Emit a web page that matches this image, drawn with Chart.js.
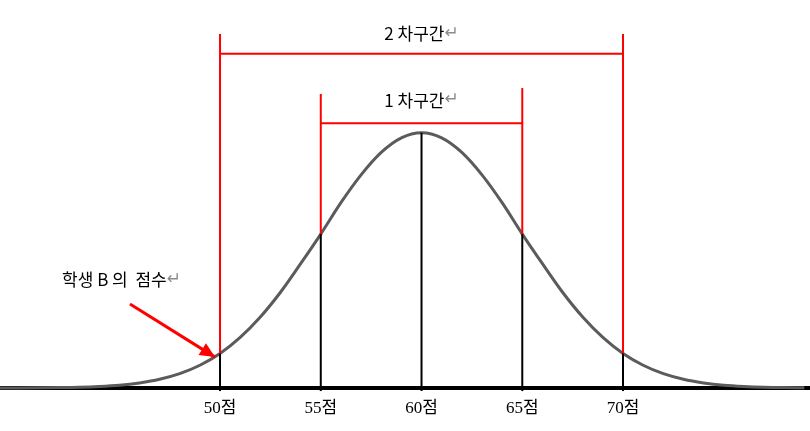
<!DOCTYPE html>
<html>
<head>
<meta charset="utf-8">
<script src="https://cdn.jsdelivr.net/npm/chart.js@4.4.1/dist/chart.umd.min.js"></script>
<style>
  html, body { margin: 0; padding: 0; background: #ffffff; }
  #wrap { width: 810px; height: 431px; position: relative; }
</style>
</head>
<body>
<div id="wrap"><canvas id="c" width="810" height="431"></canvas></div>
<script>
// ---- data ----
const scoreX   = [39,40,41,42,43,44,45,46,47,48,49,50,51,52,53,54,55,56,57,58,59,60,
                  61,62,63,64,65,66,67,68,69,70,71,72,73,74,75,76,77,78,79];
const curveY   = [0.01,0.03,0.07,0.15,0.3,0.6,1.1,2.0,3.4,5.6,8.9,13.5,19.8,27.8,37.5,48.7,60.3,72.6,83.5,92.3,98.0,100,
                  98.0,92.3,83.5,72.6,60.3,48.7,37.5,27.8,19.8,13.5,8.9,5.6,3.4,2.0,1.1,0.6,0.3,0.15,0.07];
const tickValues = [50, 55, 60, 65, 70];
const tickLabels = ['50점', '55점', '60점', '65점', '70점'];
const tickCurveHeights = [13.5, 60.3, 100, 60.3, 13.5];   // where the black drop lines meet the curve
const redTops = [138.7, 115.2, null, 117.5, 138.7];        // top of the red markers
const band2 = { from: 50, to: 70, y: 130.9, label: '2 차구간', labelX: 60, labelY: 139 };
const band1 = { from: 55, to: 65, y: 103.7, label: '1 차구간', labelX: 60, labelY: 112.8 };
const noteText = '학생 B 의  점수';
const noteAt = { x: 42.16, y: 42.3 };
const arrowFrom = { x: 45.53, y: 32.9 };
const arrowTo = { x: 49.75, y: 12.1 };

// ---- build datasets ----
const datasets = [];
datasets.push({
  label: 'curve',
  data: scoreX.map((x, i) => ({ x, y: curveY[i] })),
  borderColor: '#5b5b5b', borderWidth: 3, pointRadius: 0,
  tension: 0.4, cubicInterpolationMode: 'monotone', clip: false, order: 2
});
tickValues.forEach((v, i) => {
  datasets.push({
    label: 'drop' + v,
    data: [{ x: v, y: -1.2 }, { x: v, y: tickCurveHeights[i] }],
    borderColor: '#000000', borderWidth: 2, pointRadius: 0, clip: false, order: 1
  });
  if (redTops[i] !== null) {
    datasets.push({
      label: 'red' + v,
      data: [{ x: v, y: tickCurveHeights[i] }, { x: v, y: redTops[i] }],
      borderColor: '#ff0000', borderWidth: 2, pointRadius: 0, clip: false, order: 1
    });
  }
});
[band2, band1].forEach((b) => {
  datasets.push({
    label: 'band' + b.label,
    data: [{ x: b.from, y: b.y }, { x: b.to, y: b.y }],
    borderColor: '#ff0000', borderWidth: 2, pointRadius: 0, clip: false, order: 1
  });
});
datasets.push({
  label: 'arrow',
  data: [arrowFrom, arrowTo],
  borderColor: '#ff0000', borderWidth: 3, pointRadius: 0, clip: false, order: 0
});

const KFONT = '17px "Noto Sans CJK KR", "Noto Sans", sans-serif';
const MFONT = '17px "DejaVu Sans", sans-serif';

const annotate = {
  id: 'annotate',
  afterDatasetsDraw(chart) {
    const ctx = chart.ctx;
    const xs = chart.scales.x, ys = chart.scales.y;
    ctx.save();
    // arrow head
    const x1 = xs.getPixelForValue(arrowFrom.x), y1 = ys.getPixelForValue(arrowFrom.y);
    const x2 = xs.getPixelForValue(arrowTo.x),   y2 = ys.getPixelForValue(arrowTo.y);
    const ang = Math.atan2(y2 - y1, x2 - x1);
    const L = 15, W = 7;
    ctx.fillStyle = '#ff0000';
    ctx.beginPath();
    ctx.moveTo(x2, y2);
    ctx.lineTo(x2 - L * Math.cos(ang) + W * Math.sin(ang), y2 - L * Math.sin(ang) - W * Math.cos(ang));
    ctx.lineTo(x2 - L * Math.cos(ang) - W * Math.sin(ang), y2 - L * Math.sin(ang) + W * Math.cos(ang));
    ctx.closePath();
    ctx.fill();

    // texts
    ctx.textBaseline = 'middle';
    const drawWithMark = (text, px, py, align) => {
      ctx.font = KFONT;
      const w = ctx.measureText(text).width;
      ctx.font = MFONT;
      const mw = ctx.measureText('↵').width;
      let left = px;
      if (align === 'center') left = px - (w + mw) / 2;
      ctx.textAlign = 'left';
      ctx.font = KFONT;
      ctx.fillStyle = '#000000';
      ctx.fillText(text, left, py);
      ctx.font = MFONT;
      ctx.fillStyle = '#8c8c8c';
      ctx.fillText('↵', left + w, py);
    };
    [band2, band1].forEach((b) => {
      drawWithMark(b.label, xs.getPixelForValue(b.labelX), ys.getPixelForValue(b.labelY), 'center');
    });
    drawWithMark(noteText, xs.getPixelForValue(noteAt.x), ys.getPixelForValue(noteAt.y), 'left');
    ctx.restore();
  }
};

new Chart(document.getElementById('c'), {
  type: 'line',
  data: { datasets },
  options: {
    responsive: false,
    animation: false,
    events: [],
    layout: { padding: 0 },
    plugins: { legend: { display: false }, tooltip: { enabled: false } },
    scales: {
      x: {
        type: 'linear',
        min: 39.08, max: 79.28,
        offset: false,
        afterBuildTicks(scale) { scale.ticks = tickValues.map(v => ({ value: v })); },
        afterFit(scale) { scale.height = 43; scale.paddingLeft = 0; scale.paddingRight = 0; },
        grid: { display: false, drawTicks: false },
        border: { display: true, color: '#000000', width: 4 },
        ticks: {
          autoSkip: false, maxRotation: 0, padding: 10, color: '#000000',
          font: { family: '"Liberation Serif", "Noto Sans CJK KR", serif', size: 17 },
          callback(value) { const i = tickValues.indexOf(value); return i >= 0 ? tickLabels[i] : ''; }
        }
      },
      y: {
        type: 'linear', min: 0, max: 152, display: false
      }
    }
  },
  plugins: [annotate]
});
</script>
</body>
</html>
